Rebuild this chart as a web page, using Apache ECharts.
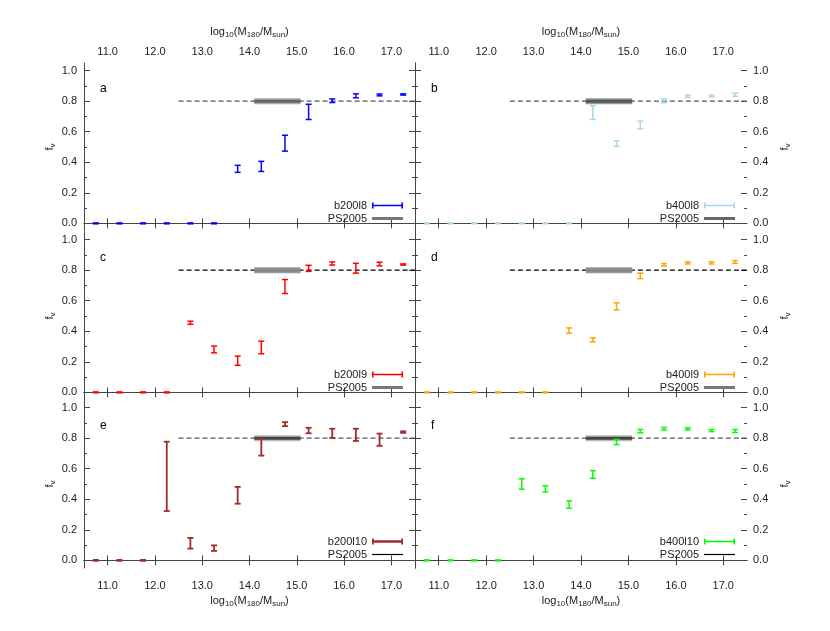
<!DOCTYPE html>
<html>
<head>
<meta charset="utf-8">
<script src="https://cdn.jsdelivr.net/npm/echarts@6/dist/echarts.min.js"></script>
<style>
  html, body { margin: 0; padding: 0; background: #fff; }
  #main { width: 830px; height: 631px; }
</style>
</head>
<body>
<div id="main"></div>
<script>
    // halo mass bins, log10(M180/Msun)
    var massBins = [10.75, 11.25, 11.75, 12.25, 12.75, 13.25, 13.75, 14.25, 14.75, 15.25, 15.75, 16.25, 16.75, 17.25];
    var xTicks = [11, 12, 13, 14, 15, 16, 17];
    var yMajor = [0, 0.2, 0.4, 0.6, 0.8, 1.0];
    var yMinor = [0.1, 0.3, 0.5, 0.7, 0.9];

    // f_v values and half error bars per run
    var b200l8Mid = [0, 0, 0, 0, 0, 0, 0.357, 0.373, 0.525, 0.73, 0.803, 0.835, 0.841, 0.844];
    var b200l8Err = [0.003, 0.003, 0.003, 0.003, 0.003, 0.003, 0.023, 0.033, 0.052, 0.05, 0.012, 0.013, 0.006, 0.004];
    var b400l8Mid = [0, 0, 0, 0, 0, 0, 0, 0.725, 0.523, 0.645, 0.803, 0.832, 0.835, 0.842];
    var b400l8Err = [0.003, 0.003, 0.003, 0.003, 0.003, 0.003, 0.003, 0.045, 0.018, 0.025, 0.013, 0.007, 0.006, 0.01];
    var b200l9Mid = [0, 0, 0, 0, 0.456, 0.281, 0.207, 0.294, 0.693, 0.812, 0.844, 0.813, 0.84, 0.837];
    var b200l9Err = [0.003, 0.003, 0.003, 0.003, 0.01, 0.022, 0.03, 0.041, 0.046, 0.02, 0.01, 0.032, 0.012, 0.004];
    var b400l9Mid = [0, 0, 0, 0, 0, 0, 0.405, 0.344, 0.563, 0.763, 0.835, 0.848, 0.848, 0.854];
    var b400l9Err = [0.003, 0.003, 0.003, 0.003, 0.003, 0.003, 0.017, 0.013, 0.023, 0.018, 0.008, 0.007, 0.007, 0.009];
    var b200l10Mid = [0, 0, 0, 0.55, 0.112, 0.08, 0.426, 0.741, 0.892, 0.85, 0.832, 0.822, 0.79, 0.84];
    var b200l10Err = [0.003, 0.003, 0.003, 0.227, 0.035, 0.018, 0.055, 0.055, 0.013, 0.018, 0.03, 0.04, 0.04, 0.005];
    var b400l10Mid = [0, 0, 0, 0, 0.5, 0.468, 0.365, 0.562, 0.775, 0.846, 0.862, 0.861, 0.85, 0.847];
    var b400l10Err = [0.003, 0.003, 0.003, 0.003, 0.034, 0.02, 0.024, 0.025, 0.017, 0.011, 0.008, 0.007, 0.007, 0.01];

    // PS2005 reference value and ranges
    var psValue = 0.8;
    var psDashX = [12.5, 17.5];
    var psBandX = [14.1, 15.08];

    var panels = [
        { letter: 'a', name: 'b200l8', mid: b200l8Mid, err: b200l8Err, color: '#0000ff', dash: '#555', band: '#aaa', core: '#666', psIcon: ['#777', 3] },
        { letter: 'b', name: 'b400l8', mid: b400l8Mid, err: b400l8Err, color: '#a8d8e8', dash: '#555', band: '#999', core: '#555', psIcon: ['#666', 3] },
        { letter: 'c', name: 'b200l9', mid: b200l9Mid, err: b200l9Err, color: '#ff0000', dash: '#000', band: '#999', core: '#888', psIcon: ['#777', 3] },
        { letter: 'd', name: 'b400l9', mid: b400l9Mid, err: b400l9Err, color: '#ffa500', dash: '#000', band: '#999', core: '#888', psIcon: ['#777', 3] },
        { letter: 'e', name: 'b200l10', mid: b200l10Mid, err: b200l10Err, color: '#a52a2a', dash: '#555', band: '#bbb', core: '#444', psIcon: ['#000', 1.2] },
        { letter: 'f', name: 'b400l10', mid: b400l10Mid, err: b400l10Err, color: '#00ff00', dash: '#555', band: '#bbb', core: '#444', psIcon: ['#000', 1.2] }
    ];

    var FONT = 'Liberation Sans';
    var TXT = '#222';
    var LINE = '#444';
    var gridTop = [63, 232, 400];
    var gridLeft = [84, 415];
    var gridW = [331, 332];
    var gridH = 168;

    var massName = '{n|log}{s|10}{n|(M}{s|180}{n|/M}{s|sun}{n|)}';
    var nameRich = {
        n: { fontSize: 11, fontFamily: FONT, color: TXT },
        s: { fontSize: 8, fontFamily: FONT, color: TXT, padding: [6, 0, 0, 0] }
    };

    function errRender(color, lw) {
        return function (params, api) {
            var lo = api.coord([api.value(0), api.value(1)]);
            var hi = api.coord([api.value(0), api.value(2)]);
            var x = lo[0];
            var st = { stroke: color, lineWidth: lw };
            return {
                type: 'group',
                children: [
                    { type: 'line', shape: { x1: x, y1: lo[1], x2: x, y2: hi[1] }, style: st },
                    { type: 'line', shape: { x1: x - 3, y1: lo[1], x2: x + 3, y2: lo[1] }, style: st },
                    { type: 'line', shape: { x1: x - 3, y1: hi[1], x2: x + 3, y2: hi[1] }, style: st }
                ]
            };
        };
    }

    function bandRender(p) {
        return function (params, api) {
            var a = api.coord([api.value(0), api.value(1)]);
            var b = api.coord([api.value(2), api.value(1)]);
            return {
                type: 'group',
                children: [
                    { type: 'rect', shape: { x: a[0], y: a[1] - 3, width: b[0] - a[0], height: 6 }, style: { fill: p.band } },
                    { type: 'rect', shape: { x: a[0], y: a[1] - 1.5, width: b[0] - a[0], height: 3 }, style: { fill: p.core } }
                ]
            };
        };
    }

    var grids = [], xAxes = [], yAxes = [], series = [], legends = [], graphics = [];
    var errIcon = 'path://M0,0h1.6v6h-1.6z M0,2.2h31v1.6h-31z M29.4,0h1.6v6h-1.6z';
    var errIconThick = 'path://M0,0h1.8v6h-1.8z M0,1.7h31v2.6h-31z M29.2,0h1.8v6h-1.8z';

    panels.forEach(function (p, i) {
        var r = Math.floor(i / 2), c = i % 2;
        grids.push({ left: gridLeft[c], top: gridTop[r], width: gridW[c], height: gridH, containLabel: false });

        var xBase = {
            gridIndex: i, type: 'value', min: 10.5, max: 17.5,
            splitLine: { show: false },
            axisTick: { inside: true, length: 5, customValues: xTicks, lineStyle: { color: LINE } },
            axisLabel: {
                customValues: xTicks, fontSize: 11, fontFamily: FONT, color: TXT,
                formatter: function (v) { return v.toFixed(1); }
            }
        };
        xAxes.push(Object.assign({}, xBase, {
            position: 'bottom',
            axisLine: { show: true, lineStyle: { color: LINE } },
            axisLabel: Object.assign({}, xBase.axisLabel, { show: r === 2, margin: 12 }),
            name: r === 2 ? massName : '', nameLocation: 'middle', nameGap: 26,
            nameTextStyle: { rich: nameRich }
        }));
        xAxes.push(Object.assign({}, xBase, {
            position: 'top',
            axisLine: { show: r > 0, lineStyle: { color: LINE } },
            axisLabel: Object.assign({}, xBase.axisLabel, { show: r === 0, margin: 6 }),
            name: r === 0 ? massName : '', nameLocation: 'middle', nameGap: 24,
            nameTextStyle: { rich: nameRich }
        }));

        var yBase = {
            gridIndex: i, type: 'value', min: -0.05, max: 1.05,
            splitLine: { show: false },
            axisLabel: {
                customValues: yMajor, fontSize: 11, fontFamily: FONT, color: TXT,
                formatter: function (v) { return v.toFixed(1); }
            },
            nameLocation: 'middle',
            nameTextStyle: { rich: nameRich }
        };
        yAxes.push(Object.assign({}, yBase, {
            position: 'left',
            axisLine: { show: true, lineStyle: { color: LINE } },
            axisTick: { inside: true, length: 6, customValues: yMajor, lineStyle: { color: LINE } },
            axisLabel: Object.assign({}, yBase.axisLabel, { show: c === 0, margin: 7 }),
            name: c === 0 ? '{n|f}{s|v}' : '', nameGap: 27
        }));
        yAxes.push(Object.assign({}, yBase, {
            position: 'right',
            axisLine: { show: c === 0, lineStyle: { color: LINE } },
            axisTick: { inside: true, length: 6, customValues: yMajor, lineStyle: { color: LINE } },
            axisLabel: Object.assign({}, yBase.axisLabel, { show: c === 1, margin: 6 }),
            name: c === 1 ? '{n|f}{s|v}' : '', nameGap: 31
        }));
        yAxes.push(Object.assign({}, yBase, {
            position: 'left',
            axisLine: { show: false },
            axisTick: { inside: true, length: 3, customValues: yMinor, lineStyle: { color: LINE } },
            axisLabel: { show: false }
        }));
        yAxes.push(Object.assign({}, yBase, {
            position: 'right',
            axisLine: { show: false },
            axisTick: { inside: true, length: 3, customValues: yMinor, lineStyle: { color: LINE } },
            axisLabel: { show: false }
        }));

        series.push({
            type: 'line', xAxisIndex: 2 * i, yAxisIndex: 4 * i, silent: true,
            data: psDashX.map(function (x) { return [x, psValue]; }),
            symbol: 'none', z: 1,
            lineStyle: { color: p.dash, width: 1.3, type: [5, 3] }
        });
        series.push({
            type: 'custom', name: 'PS2005', xAxisIndex: 2 * i, yAxisIndex: 4 * i, silent: true, z: 2,
            renderItem: bandRender(p),
            encode: { x: [0, 2], y: 1 },
            data: [[psBandX[0], psValue, psBandX[1]]]
        });
        series.push({
            type: 'custom', name: p.name, xAxisIndex: 2 * i, yAxisIndex: 4 * i, z: 3,
            renderItem: errRender(p.color, i === 4 ? 1.8 : 1.5),
            encode: { x: 0, y: [1, 2] },
            data: massBins.map(function (x, k) {
                return [x, p.mid[k] - p.err[k], p.mid[k] + p.err[k], p.mid[k]];
            })
        });

        var iconRight = c === 0 ? 830 - 403 : 830 - 735;
        var rowY = [207, 376, 543][r];
        var legBase = {
            orient: 'horizontal', align: 'right', padding: 0, right: iconRight,
            itemWidth: 31, selectedMode: false,
            textStyle: { fontSize: 11, fontFamily: FONT, color: TXT }
        };
        legends.push(Object.assign({}, legBase, {
            top: rowY - 7, itemHeight: 6,
            data: [{ name: p.name, icon: i === 4 ? errIconThick : errIcon, itemStyle: { color: p.color, borderWidth: 0 } }]
        }));
        legends.push(Object.assign({}, legBase, {
            top: rowY + 13 - 7, itemHeight: p.psIcon[1],
            data: [{ name: 'PS2005', icon: 'rect', itemStyle: { color: p.psIcon[0], borderWidth: 0 } }]
        }));

        graphics.push({
            type: 'text', left: gridLeft[c] + 16, top: gridTop[r] + 20,
            style: { text: p.letter, fontSize: 12, fontFamily: FONT, fill: '#000' }
        });
    });

    var chart = echarts.init(document.getElementById('main'), null, { renderer: 'canvas' });
    chart.setOption({
        animation: false,
        backgroundColor: '#fff',
        grid: grids,
        xAxis: xAxes,
        yAxis: yAxes,
        legend: legends,
        graphic: graphics,
        series: series
    });
</script>
</body>
</html>
